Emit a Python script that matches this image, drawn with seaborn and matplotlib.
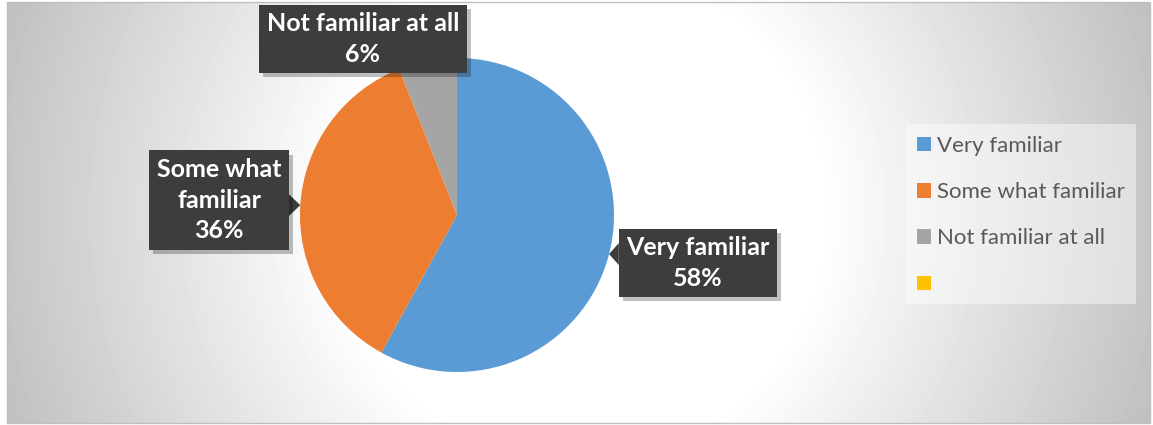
import numpy as np
import matplotlib
matplotlib.use("Agg")
import matplotlib.pyplot as plt
import matplotlib.patheffects as pe
from matplotlib.patches import Patch, Rectangle, Polygon
import seaborn as sns

# survey answers
categories = ["Very familiar", "Some what familiar", "Not familiar at all", ""]
shares = [58, 36, 6]
label_text = ["Very familiar", "Some what\nfamiliar", "Not familiar at all"]
colors = sns.color_palette(["#5B9BD5", "#ED7D31", "#A5A5A5", "#FFC000"])

sns.set_theme(style="white")
plt.rcParams["font.family"] = ["Lato", "DejaVu Sans"]

W, H = 1153, 425
fig = plt.figure(figsize=(W / 100, H / 100), dpi=100)
fig.patch.set_facecolor("white")
ax = fig.add_axes([0, 0, 1, 1])

# chart area with radial grey gradient
x0, x1, y0, y1 = 7, 1150, 2, 423
yy, xx = np.mgrid[y0:y1, x0:x1]
cx, cy = (x0 + x1) / 2, (y0 + y1) / 2
r = np.hypot(xx - cx, yy - cy) / np.hypot((x1 - x0) / 2, (y1 - y0) / 2)
t = np.clip((r - 0.4) / 0.6, 0, 1)
grad = 1 - 0.25 * t
ax.imshow(grad, cmap="gray", vmin=0, vmax=1, extent=(x0, x1, H - y1, H - y0),
          origin="upper", zorder=0, interpolation="bilinear")
ax.add_patch(Rectangle((x0, H - y1), x1 - x0, y1 - y0, fill=False,
                       ec="#BFBFBF", lw=1, zorder=1))

# pie
pie_c = (457, H - 215)
pie_r = 157
wedges, _ = ax.pie(shares, colors=colors[:3], startangle=90, counterclock=False,
                   center=pie_c, radius=pie_r, wedgeprops=dict(linewidth=0))
for w in wedges:
    w.set_zorder(2)

ax.set_xlim(0, W)
ax.set_ylim(0, H)
ax.set_aspect("auto")
ax.axis("off")

# data label callouts
label_pos = [(698, H - 263), (219, H - 200), (363, H - 39)]
box_col = "#3D3D3D"
texts = []
for i, w in enumerate(wedges):
    txt = ax.text(*label_pos[i], f"{label_text[i]}\n{shares[i]}%", ha="center", va="center",
                  color="white", fontsize=18, fontweight="bold", linespacing=1.4,
                  zorder=5,
                  bbox=dict(boxstyle="square,pad=0.3", fc=box_col, ec="none"))
    txt.get_bbox_patch().set_path_effects(
        [pe.withSimplePatchShadow(offset=(3, -3), shadow_rgbFace="black", alpha=0.25), pe.Normal()])
    texts.append(txt)

fig.canvas.draw()
renderer = fig.canvas.get_renderer()
for w, txt in zip(wedges, texts):
    bb = txt.get_bbox_patch().get_window_extent(renderer)
    ang = np.deg2rad((w.theta1 + w.theta2) / 2)
    tx = pie_c[0] + pie_r * np.cos(ang)
    ty = pie_c[1] + pie_r * np.sin(ang)
    if bb.x0 <= tx <= bb.x1 and bb.y0 <= ty <= bb.y1:
        continue
    half = 11
    if tx > bb.x1 or tx < bb.x0:
        ex = bb.x1 if tx > bb.x1 else bb.x0
        my = np.clip(ty, bb.y0 + half, bb.y1 - half)
        base = [(ex, my - half), (ex, my + half)]
    else:
        ey = bb.y1 if ty > bb.y1 else bb.y0
        mx = np.clip(tx, bb.x0 + half, bb.x1 - half)
        base = [(mx - half, ey), (mx + half, ey)]
    ax.add_patch(Polygon([base[0], (tx, ty), base[1]], closed=True, fc=box_col,
                         ec="none", zorder=4))

# legend
ax.add_patch(Rectangle((906, H - 304), 1136 - 906, 180, fc="white", alpha=0.44,
                       ec="none", zorder=3))
handles = [Patch(facecolor=c, edgecolor="none") for c in colors]
fs = 16
leg = ax.legend(handles, categories, loc="upper left", bbox_to_anchor=(917, H - 136),
                bbox_transform=ax.transData, frameon=False, borderpad=0, borderaxespad=0,
                fontsize=fs, handlelength=0.63, handleheight=0.63, handletextpad=0.25,
                labelspacing=1.18)
leg.set_zorder(6)
for tx in leg.get_texts():
    tx.set_color("#595959")

fig.savefig("out.png", dpi=100)
